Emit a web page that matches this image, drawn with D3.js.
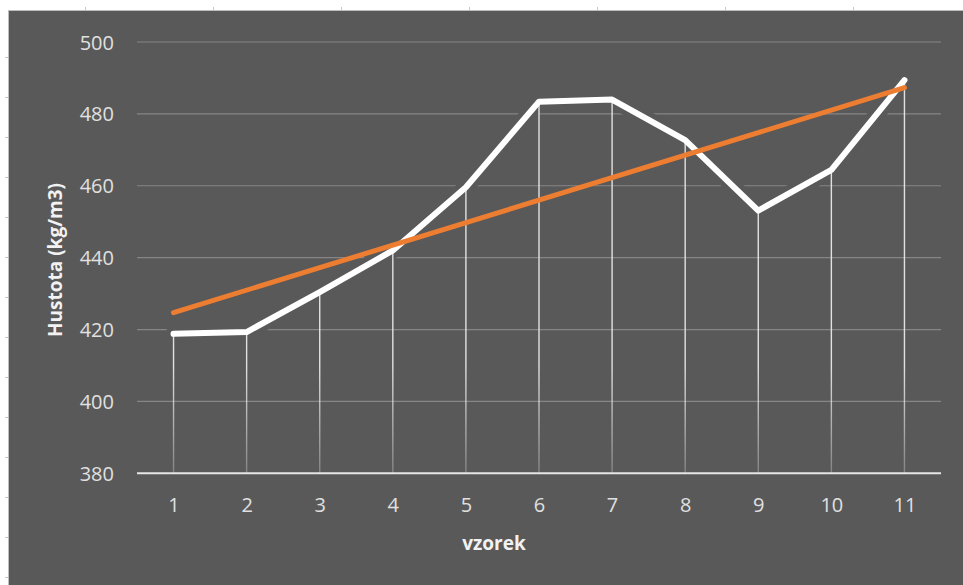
<!DOCTYPE html>
<html>
<head>
<meta charset="utf-8">
<script src="https://cdn.jsdelivr.net/npm/d3@7"></script>
<style>
  html, body { margin: 0; padding: 0; background: #ffffff; }
  svg { display: block; }
</style>
</head>
<body>
<svg id="chart" width="963" height="585"></svg>
<script>
// Hustota vzorků (kg/m3) a lineární trend
const samples = ["1", "2", "3", "4", "5", "6", "7", "8", "9", "10", "11"];
const density = [418.8, 419.3, 430.4, 442.0, 459.6, 483.4, 484.0, 472.7, 453.1, 464.4, 489.4];
const trendSamples = ["1", "11"];
const trendValues = [424.7, 487.3];
const yTicks = [380, 400, 420, 440, 460, 480, 500];
const yTitle = "Hustota (kg/m3)";
const xTitle = "vzorek";

const W = 963, H = 585;
const bg = "#595959";
const svg = d3.select("#chart");

// sheet frame: white margin strip on top and left with a thin ruler
svg.append("rect").attr("width", W).attr("height", H).attr("fill", "#ffffff");
svg.append("rect").attr("x", 8).attr("y", 10).attr("width", W - 8).attr("height", H - 10).attr("fill", bg);
svg.append("line").attr("x1", 8).attr("x2", W).attr("y1", 10.5).attr("y2", 10.5)
  .attr("stroke", "#bdbdbd").attr("stroke-width", 1);
svg.append("line").attr("x1", 8.5).attr("x2", 8.5).attr("y1", 10).attr("y2", H)
  .attr("stroke", "#bdbdbd").attr("stroke-width", 1);
svg.append("g").selectAll("line").data(d3.range(85, W, 128)).join("line")
  .attr("x1", d => d + 0.5).attr("x2", d => d + 0.5).attr("y1", 7).attr("y2", 10)
  .attr("stroke", "#c8c8c8");
svg.append("g").selectAll("line").data(d3.range(57, H, 40)).join("line")
  .attr("x1", 5).attr("x2", 8).attr("y1", d => d + 0.5).attr("y2", d => d + 0.5)
  .attr("stroke", "#c8c8c8");

// plot area
const plot = { left: 137, right: 941, top: 42, bottom: 473.3 };
const x = d3.scalePoint().domain(samples).range([plot.left, plot.right]).padding(0.5);
const y = d3.scaleLinear().domain([380, 500]).range([plot.bottom, plot.top]);

const font = "'Open Sans', 'Noto Sans', sans-serif";

// horizontal gridlines
svg.append("g").selectAll("line").data(yTicks.filter(t => t !== 380)).join("line")
  .attr("x1", plot.left).attr("x2", plot.right)
  .attr("y1", d => y(d)).attr("y2", d => y(d))
  .attr("stroke", "#868686").attr("stroke-width", 1.2);

// y axis labels
const yAxis = d3.axisLeft(y).tickValues(yTicks).tickSize(0).tickPadding(0);
const gy = svg.append("g").attr("transform", `translate(114,0)`).call(yAxis);
gy.select(".domain").remove();
gy.selectAll("text").attr("fill", "#e0e0e0").attr("font-family", font)
  .attr("font-size", 20).attr("dy", "0.35em");

// x axis: category labels
const xAxis = d3.axisBottom(x).tickSize(0).tickPadding(0);
const gx = svg.append("g").attr("transform", `translate(0,${plot.bottom})`).call(xAxis);
gx.select(".domain").remove();
gx.selectAll("text").attr("fill", "#e0e0e0").attr("font-family", font)
  .attr("font-size", 20).attr("y", 39).attr("dy", "0");

const line = d3.line().x((d, i) => x(samples[i])).y(d => y(d));

// background halo around the measured line
svg.append("path").datum(density).attr("d", line)
  .attr("fill", "none").attr("stroke", bg).attr("stroke-width", 16)
  .attr("stroke-linejoin", "round").attr("stroke-linecap", "round");

// baseline
svg.append("line").attr("x1", plot.left).attr("x2", plot.right)
  .attr("y1", plot.bottom).attr("y2", plot.bottom)
  .attr("stroke", "#e6e6e6").attr("stroke-width", 2);

// drop lines fading towards the baseline
const defs = svg.append("defs");
const grad = defs.append("linearGradient").attr("id", "dropFade")
  .attr("gradientUnits", "userSpaceOnUse")
  .attr("x1", 0).attr("x2", 0).attr("y1", y(410)).attr("y2", plot.bottom);
grad.append("stop").attr("offset", 0).attr("stop-color", "#e8e8e8").attr("stop-opacity", 0.95);
grad.append("stop").attr("offset", 1).attr("stop-color", "#e8e8e8").attr("stop-opacity", 0.3);

svg.append("g").selectAll("line").data(density).join("line")
  .attr("x1", (d, i) => x(samples[i])).attr("x2", (d, i) => x(samples[i]))
  .attr("y1", d => y(d)).attr("y2", plot.bottom)
  .attr("stroke", "url(#dropFade)").attr("stroke-width", 1.4);

// measured density
svg.append("path").datum(density).attr("d", line)
  .attr("fill", "none").attr("stroke", "#ffffff").attr("stroke-width", 6)
  .attr("stroke-linejoin", "round").attr("stroke-linecap", "round");

// linear trend
const trendLine = d3.line().x((d, i) => x(trendSamples[i])).y(d => y(d));
svg.append("path").datum(trendValues).attr("d", trendLine)
  .attr("fill", "none").attr("stroke", "#ED7D31").attr("stroke-width", 5)
  .attr("stroke-linecap", "round");

// axis titles
svg.append("text").attr("x", 494).attr("y", 550).attr("text-anchor", "middle")
  .attr("fill", "#f2f2f2").attr("font-family", font).attr("font-weight", "bold")
  .attr("font-size", 19).text(xTitle);
svg.append("text").attr("transform", "translate(62,260) rotate(-90)")
  .attr("text-anchor", "middle")
  .attr("fill", "#f2f2f2").attr("font-family", font).attr("font-weight", "bold")
  .attr("font-size", 19).text(yTitle);
</script>
</body>
</html>
